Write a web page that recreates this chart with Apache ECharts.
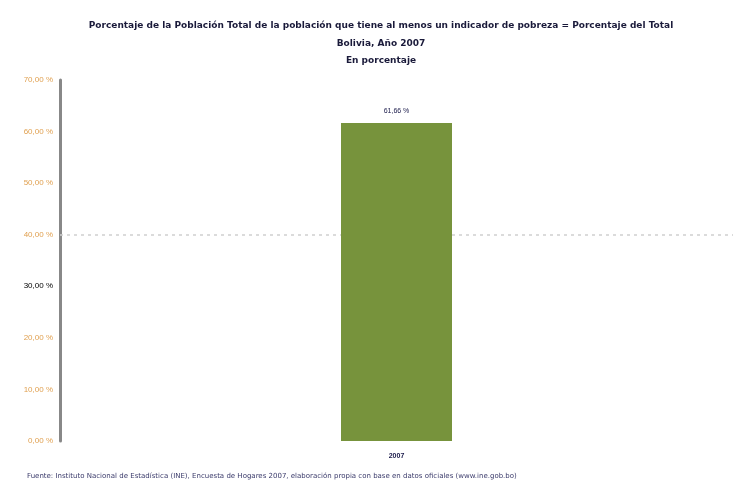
<!DOCTYPE html>
<html><head><meta charset="utf-8">
<script src="https://cdn.jsdelivr.net/npm/echarts@6/dist/echarts.min.js"></script>
<style>html,body{margin:0;padding:0;background:#fff}#c{width:733px;height:487px}</style>
</head><body><div id="c"></div>
<script>
const titleLines = ["Porcentaje de la Población Total de la población que tiene al menos un indicador de pobreza = Porcentaje del Total","Bolivia, Año 2007","En porcentaje"];
const categories = ["2007"];
const values = [61.66];
const refLine = [40];
const highlightTick = 30;
const footer = "Fuente: Instituto Nacional de Estadística (INE), Encuesta de Hogares 2007, elaboración propia con base en datos oficiales (www.ine.gob.bo)";
const fmt = v => v.toFixed(2).replace('.', ',') + ' %';
const titleTops = [16, 34, 51];
const chart = echarts.init(document.getElementById('c'));
chart.setOption({
  animation:false,
  title: titleLines.map((t,i)=>({text:t,left:376,top:titleTops[i],textAlign:'center',
    textStyle:{fontSize:9,fontWeight:'bold',color:'#1a1a3a',fontFamily:'DejaVu Sans'}}))
    .concat([{text:footer,left:22,top:468,textStyle:{fontSize:7,fontWeight:'normal',color:'#3a3a6a',fontFamily:'DejaVu Sans'}}]),
  grid:{left:60,right:0,top:80,bottom:46},
  xAxis:{type:'category',data:categories,axisLine:{show:false},axisTick:{show:false},
    axisLabel:{fontSize:7,color:'#1a1a4a',fontWeight:'bold',margin:12}},
  yAxis:{type:'value',min:0,max:70,interval:10,
    axisLine:{show:true,lineStyle:{color:'#888',width:3}},axisTick:{show:false},splitLine:{show:false},
    axisLabel:{fontSize:8,margin:7,formatter:fmt,
      color:(v)=> Number(v)===highlightTick ? '#000' : '#e0a050'}},
  series:[
    {type:'bar',data:values,barWidth:111,z:3,itemStyle:{color:'#77933c'},
    label:{show:true,position:'top',distance:8,fontSize:7,color:'#1a1a4a',formatter:p=>fmt(p.value)},
    markLine:{silent:true,z:1,symbol:'none',label:{show:false},
      lineStyle:{color:'#cfcfcf',type:[3,4],width:1.5},data:refLine.map(v=>({yAxis:v}))}}]
});
</script></body></html>
